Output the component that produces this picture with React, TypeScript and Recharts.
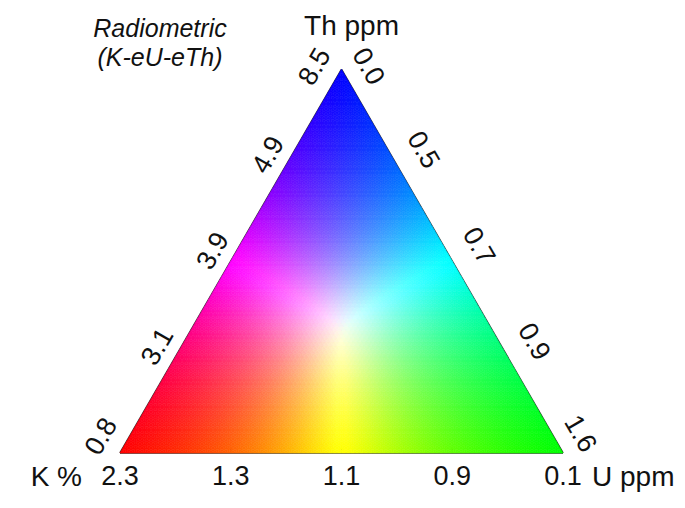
import React from 'react';
import { ScatterChart, Scatter, XAxis, YAxis, ReferenceLine } from 'recharts';

/* ── Data ─────────────────────────────────────────── */
const TH_TICKS = ['0.8', '3.1', '3.9', '4.9', '8.5']; // left edge, bottom -> top
const U_TICKS = ['0.0', '0.5', '0.7', '0.9', '1.6'];  // right edge, top -> bottom
const K_TICKS = ['2.3', '1.3', '1.1', '0.9', '0.1'];  // bottom edge, left -> right
const TICK_FRACTIONS = [0, 0.25, 0.5, 0.75, 1];
const AXIS_NAMES = ['K %', 'U ppm', 'Th ppm'];
const TITLE_LINES = ['Radiometric', '(K-eU-eTh)'];

/* ── Layout ───────────────────────────────────────── */
const W = 685;
const H = 508;
const PX = 443; // pixels per triangle side
const X_MIN = -120 / PX;
const X_MAX = (W - 120) / PX;
const Y_MIN = -(H - 453) / PX;
const Y_MAX = 453 / PX;
const GRID_N = 100;
const SQ3 = Math.sqrt(3) / 2;
const FONT = '"Liberation Sans", Arial, Helvetica, sans-serif';

// ternary (u toward bottom-right, t toward top) -> cartesian units
const toXY = (u: number, t: number) => ({ x: u + t / 2, y: t * SQ3 });

/* ── Colour field cells ───────────────────────────── */
type Cell = { x: number; y: number; up: boolean; k: number; u: number; t: number };

const cells: Cell[] = [];
for (let r = 0; r < GRID_N; r++) {
    for (let c = 0; c + r < GRID_N; c++) {
        const uu = (c + 1 / 3) / GRID_N, tu = (r + 1 / 3) / GRID_N;
        cells.push({ ...toXY(uu, tu), up: true, u: uu, t: tu, k: 1 - uu - tu });
        if (c + r < GRID_N - 1) {
            const ud = (c + 2 / 3) / GRID_N, td = (r + 2 / 3) / GRID_N;
            cells.push({ ...toXY(ud, td), up: false, u: ud, t: td, k: 1 - ud - td });
        }
    }
}

// soft-max normalised RGB: red = K, green = U, blue = Th
const P_NORM = 6;
const GAIN = 1.15;
const cellColor = (k: number, u: number, t: number) => {
    const m = Math.pow(k ** P_NORM + u ** P_NORM + t ** P_NORM, 1 / P_NORM);
    const ch = (v: number) => Math.round(255 * Math.min(1, GAIN * Math.max(0, v) / m));
    return `rgb(${ch(k)},${ch(u)},${ch(t)})`;
};

const renderCell = (props: any) => {
    const { cx, cy, payload } = props;
    const s = PX / GRID_N;
    const h = s * SQ3;
    const fill = cellColor(payload.k, payload.u, payload.t);
    const pts = payload.up
        ? `${cx - s / 2},${cy + h / 3} ${cx + s / 2},${cy + h / 3} ${cx},${cy - (2 * h) / 3}`
        : `${cx - s / 2},${cy - h / 3} ${cx + s / 2},${cy - h / 3} ${cx},${cy + (2 * h) / 3}`;
    return <polygon points={pts} fill={fill} stroke={fill} strokeWidth={0.6} />;
};

/* ── Tick labels ──────────────────────────────────── */
type Edge = 'left' | 'right' | 'bottom';
const EDGE_STYLE: Record<Edge, { rot: number; n: number[]; along: number[]; gap: number; corner: number[] }> = {
    left: { rot: -60, n: [-SQ3, -0.5], along: [0.5, -SQ3], gap: 21, corner: [5, -11] },
    right: { rot: 60, n: [SQ3, -0.5], along: [0.5, SQ3], gap: 31, corner: [11, -8] },
    bottom: { rot: 0, n: [0, 1], along: [1, 0], gap: 23, corner: [0, 0] },
};

const edgePoint = (edge: Edge, f: number) =>
    edge === 'left' ? toXY(0, f) : edge === 'right' ? toXY(f, 1 - f) : toXY(f, 0);

const labelData = [
    ...TH_TICKS.map((text, i) => ({ ...edgePoint('left', TICK_FRACTIONS[i]), text, edge: 'left' as Edge, i })),
    ...U_TICKS.map((text, i) => ({ ...edgePoint('right', TICK_FRACTIONS[i]), text, edge: 'right' as Edge, i })),
    ...K_TICKS.map((text, i) => ({ ...edgePoint('bottom', TICK_FRACTIONS[i]), text, edge: 'bottom' as Edge, i })),
];

const renderLabel = (props: any) => {
    const { cx, cy, payload } = props;
    const st = EDGE_STYLE[payload.edge as Edge];
    const last = TICK_FRACTIONS.length - 1;
    const isCorner = payload.i === 0 || payload.i === last;
    const gap = isCorner && payload.edge !== 'bottom' ? 25 : st.gap;
    const a = payload.i === 0 ? st.corner[0] : payload.i === last ? st.corner[1] : 0;
    const x = cx + st.n[0] * gap + st.along[0] * a;
    const y = cy + st.n[1] * gap + st.along[1] * a;
    return (
        <text
            x={x}
            y={y}
            textAnchor="middle"
            dominantBaseline="central"
            transform={`rotate(${st.rot} ${x} ${y})`}
            fontFamily={FONT}
            fontSize={27}
            fill="#111"
        >
            {payload.text}
        </text>
    );
};

/* ── Axis names at the corners ────────────────────── */
const nameData = [
    { ...toXY(0, 0), text: AXIS_NAMES[0], anchor: 'end', dx: -38, dy: 23 },
    { ...toXY(1, 0), text: AXIS_NAMES[1], anchor: 'start', dx: 29, dy: 23 },
    { ...toXY(0, 1), text: AXIS_NAMES[2], anchor: 'middle', dx: 10, dy: -44 },
];

const renderName = (props: any) => {
    const { cx, cy, payload } = props;
    return (
        <text
            x={cx + payload.dx}
            y={cy + payload.dy}
            textAnchor={payload.anchor}
            dominantBaseline="central"
            fontFamily={FONT}
            fontSize={28}
            fill="#111"
        >
            {payload.text}
        </text>
    );
};

/* ── Outline & ticks ──────────────────────────────── */
const corners = [toXY(0, 0), toXY(1, 0), toXY(0, 1)];
const outline = [
    [corners[0], corners[1]],
    [corners[1], corners[2]],
    [corners[2], corners[0]],
];

const TICK_LEN = 6 / PX;
const tickSegments = (['left', 'right', 'bottom'] as Edge[]).flatMap((edge) =>
    TICK_FRACTIONS.slice(1, -1).map((f) => {
        const p = edgePoint(edge, f);
        const n = EDGE_STYLE[edge].n;
        return [p, { x: p.x - n[0] * TICK_LEN, y: p.y + n[1] * TICK_LEN }];
    })
);

/* ── Chart ────────────────────────────────────────── */
const App: React.FC = () => (
    <div style={{ position: 'absolute', left: 0, top: 0, width: W, height: H, background: '#fff' }}>
        <ScatterChart width={W} height={H} margin={{ top: 0, right: 0, bottom: 0, left: 0 }}>
            <XAxis type="number" dataKey="x" domain={[X_MIN, X_MAX]} allowDataOverflow hide />
            <YAxis type="number" dataKey="y" domain={[Y_MIN, Y_MAX]} allowDataOverflow hide />
            <Scatter data={cells} shape={renderCell} isAnimationActive={false} />
            {outline.map((seg, i) => (
                <ReferenceLine key={`o${i}`} segment={seg} stroke="#2a2a2a" strokeWidth={1.6} ifOverflow="visible" />
            ))}
            {tickSegments.map((seg, i) => (
                <ReferenceLine key={`t${i}`} segment={seg} stroke="#2a2a2a" strokeWidth={1.2} ifOverflow="visible" />
            ))}
            <Scatter data={labelData} shape={renderLabel} isAnimationActive={false} />
            <Scatter data={nameData} shape={renderName} isAnimationActive={false} />
        </ScatterChart>
        <div
            style={{
                position: 'absolute', left: 58, top: 14, width: 204, textAlign: 'center',
                fontFamily: FONT, fontStyle: 'italic', fontSize: 25, lineHeight: '29px', color: '#111',
            }}
        >
            {TITLE_LINES.map((l) => <div key={l}>{l}</div>)}
        </div>
    </div>
);

export default App;
